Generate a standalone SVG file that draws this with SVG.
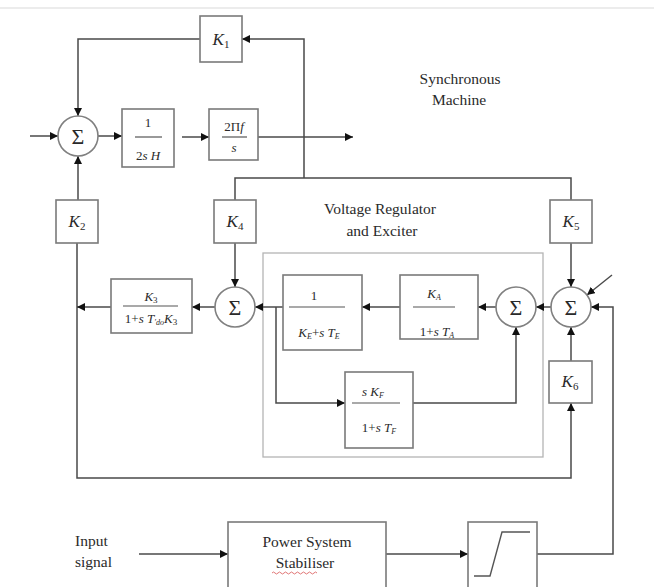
<svg xmlns="http://www.w3.org/2000/svg" width="654" height="587" viewBox="0 0 654 587">
<defs>
<marker id="ar" viewBox="0 0 10 10" refX="10" refY="5" markerWidth="8" markerHeight="8" markerUnits="userSpaceOnUse" orient="auto">
<path d="M0,0 L10,5 L0,10 z" fill="#111"/>
</marker>
</defs>
<style>
.box{fill:#fff;stroke:#7a7a7a;stroke-width:1.6}
.sum{fill:#fff;stroke:#808080;stroke-width:1.6}
.region{fill:none;stroke:#b4b4b4;stroke-width:1.3}
.ln{fill:none;stroke:#4a4a4a;stroke-width:1.5}
.arr{marker-end:url(#ar)}
.fl{stroke:#555;stroke-width:1.2}
text{font-family:"Liberation Serif","Times New Roman",serif;fill:#2a2a2a}
.k{font-size:17px;text-anchor:middle}
.f{font-size:13px;text-anchor:middle}
.s{font-size:22px;text-anchor:middle}
.lab{font-size:15.5px;text-anchor:middle}
.it{font-style:italic}
</style>
<rect width="654" height="587" fill="#fff"/>
<line x1="0" y1="8" x2="654" y2="8" stroke="#e6e6e6" stroke-width="1.5"/>

<g id="region-avr">
<rect class="region" x="263" y="253" width="280" height="204"/>
</g>

<g id="connectors">
<polyline class="ln arr" points="200,39 78,39 78,116"/>
<line class="ln arr" x1="30" y1="136" x2="58" y2="136"/>
<line class="ln arr" x1="98" y1="136" x2="122" y2="136"/>
<line class="ln arr" x1="182" y1="137" x2="209" y2="137"/>
<line class="ln arr" x1="258" y1="137" x2="353" y2="137"/>
<polyline class="ln arr" points="304,178 304,39 242,39"/>
<polyline class="ln" points="235,200 235,178 571,178 571,200"/>
<line class="ln arr" x1="235" y1="243" x2="235" y2="287"/>
<line class="ln arr" x1="78" y1="200" x2="78" y2="156"/>
<polyline class="ln arr" points="77,243 77,478 571,478 571,403"/>
<line class="ln arr" x1="111" y1="307" x2="77" y2="307"/>
<line class="ln arr" x1="215" y1="307" x2="192" y2="307"/>
<line class="ln arr" x1="283" y1="307" x2="255" y2="307"/>
<polyline class="ln arr" points="276,307 276,403 345,403"/>
<polyline class="ln arr" points="413,403 516,403 516,327"/>
<line class="ln arr" x1="400" y1="307" x2="362" y2="307"/>
<line class="ln arr" x1="496" y1="307" x2="478" y2="307"/>
<line class="ln arr" x1="551" y1="307" x2="536" y2="307"/>
<line class="ln arr" x1="571" y1="243" x2="571" y2="287"/>
<line class="ln arr" x1="571" y1="361" x2="571" y2="327"/>
<line class="ln arr" x1="612" y1="275" x2="587" y2="295"/>
<polyline class="ln arr" points="537,554 613,554 613,307 591,307"/>
<line class="ln arr" x1="139" y1="554" x2="228" y2="554"/>
<line class="ln arr" x1="386" y1="554" x2="468" y2="554"/>
</g>

<g id="K1">
<rect class="box" x="200" y="16" width="42" height="46"/>
<text class="k" x="221" y="45"><tspan class="it">K</tspan><tspan font-size="11" dy="3">1</tspan></text>
</g>
<g id="sum1">
<circle class="sum" cx="78" cy="136" r="20"/>
<text class="s" x="78" y="144">Σ</text>
</g>
<g id="inertia">
<rect class="box" x="122" y="109" width="52" height="58"/>
<text class="f" x="148" y="127">1</text>
<line class="fl" x1="135" y1="137" x2="162" y2="137"/>
<text class="f" x="148" y="160">2<tspan class="it">s H</tspan></text>
</g>
<g id="integrator">
<rect class="box" x="209" y="109" width="49" height="51"/>
<text class="f" x="234" y="131">2Π<tspan class="it">f</tspan></text>
<line class="fl" x1="222" y1="137" x2="247" y2="137"/>
<text class="f it" x="234" y="152">s</text>
</g>
<g id="label-sm">
<text class="lab" x="460" y="84">Synchronous</text>
<text class="lab" x="459" y="105">Machine</text>
</g>
<g id="K2">
<rect class="box" x="56" y="200" width="42" height="43"/>
<text class="k" x="77" y="227"><tspan class="it">K</tspan><tspan font-size="11" dy="3">2</tspan></text>
</g>
<g id="K4">
<rect class="box" x="214" y="200" width="42" height="43"/>
<text class="k" x="235" y="227"><tspan class="it">K</tspan><tspan font-size="11" dy="3">4</tspan></text>
</g>
<g id="K5">
<rect class="box" x="550" y="200" width="42" height="43"/>
<text class="k" x="571" y="227"><tspan class="it">K</tspan><tspan font-size="11" dy="3">5</tspan></text>
</g>
<g id="label-avr">
<text class="lab" x="380" y="214">Voltage Regulator</text>
<text class="lab" x="382" y="236">and Exciter</text>
</g>
<g id="K3-field">
<rect class="box" x="111" y="279" width="81" height="54"/>
<text class="f" x="151" y="301"><tspan class="it">K</tspan><tspan font-size="9" dy="2">3</tspan></text>
<line class="fl" x1="123" y1="306" x2="178" y2="306"/>
<text class="f" x="151" y="323">1+<tspan class="it">s T</tspan><tspan font-size="8" dy="2" class="it">′do</tspan><tspan class="it" dy="-2">K</tspan><tspan font-size="9" dy="2">3</tspan></text>
</g>
<g id="sum2">
<circle class="sum" cx="235" cy="307" r="20"/>
<text class="s" x="235" y="315">Σ</text>
</g>
<g id="exciter">
<rect class="box" x="283" y="275" width="79" height="75"/>
<text class="f" x="314" y="300">1</text>
<line class="fl" x1="289" y1="307" x2="345" y2="307"/>
<text class="f" x="319" y="337"><tspan class="it">K</tspan><tspan font-size="8" dy="2" class="it">E</tspan><tspan dy="-2">+</tspan><tspan class="it">s T</tspan><tspan font-size="8" dy="2" class="it">E</tspan></text>
</g>
<g id="amplifier">
<rect class="box" x="400" y="275" width="78" height="64"/>
<text class="f" x="434" y="298"><tspan class="it">K</tspan><tspan font-size="8" dy="2" class="it">A</tspan></text>
<line class="fl" x1="413" y1="307" x2="455" y2="307"/>
<text class="f" x="437" y="336">1+<tspan class="it">s T</tspan><tspan font-size="8" dy="2" class="it">A</tspan></text>
</g>
<g id="sum3">
<circle class="sum" cx="516" cy="307" r="20"/>
<text class="s" x="516" y="315">Σ</text>
</g>
<g id="sum4">
<circle class="sum" cx="571" cy="307" r="20"/>
<text class="s" x="571" y="315">Σ</text>
</g>
<g id="stabilising-feedback">
<rect class="box" x="345" y="372" width="68" height="76"/>
<text class="f" x="373" y="396"><tspan class="it">s K</tspan><tspan font-size="8" dy="2" class="it">F</tspan></text>
<line class="fl" x1="352" y1="403" x2="400" y2="403"/>
<text class="f" x="379" y="432">1+<tspan class="it">s T</tspan><tspan font-size="8" dy="2" class="it">F</tspan></text>
</g>
<g id="K6">
<rect class="box" x="549" y="361" width="43" height="42"/>
<text class="k" x="570" y="387"><tspan class="it">K</tspan><tspan font-size="11" dy="3">6</tspan></text>
</g>
<g id="label-input">
<text font-size="15.5" x="75" y="546">Input</text>
<text font-size="15.5" x="75" y="567">signal</text>
</g>
<g id="pss">
<rect class="box" x="228" y="522" width="158" height="70"/>
<text class="lab" x="307" y="547">Power System</text>
<text class="lab" x="305" y="568">Stabiliser</text>
<path d="M272,573 q1.5,-2 3,0 t3,0 t3,0 t3,0 t3,0 t3,0 t3,0 t3,0 t3,0 t3,0 t3,0 t3,0 t3,0 t3,0 t3,0" fill="none" stroke="#d66" stroke-width="0.9"/>
</g>
<g id="limiter">
<rect class="box" x="468" y="522" width="69" height="70"/>
<polyline fill="none" stroke="#555" stroke-width="1.4" points="474,576 490,576 502,532 530,532"/>
</g>
</svg>
